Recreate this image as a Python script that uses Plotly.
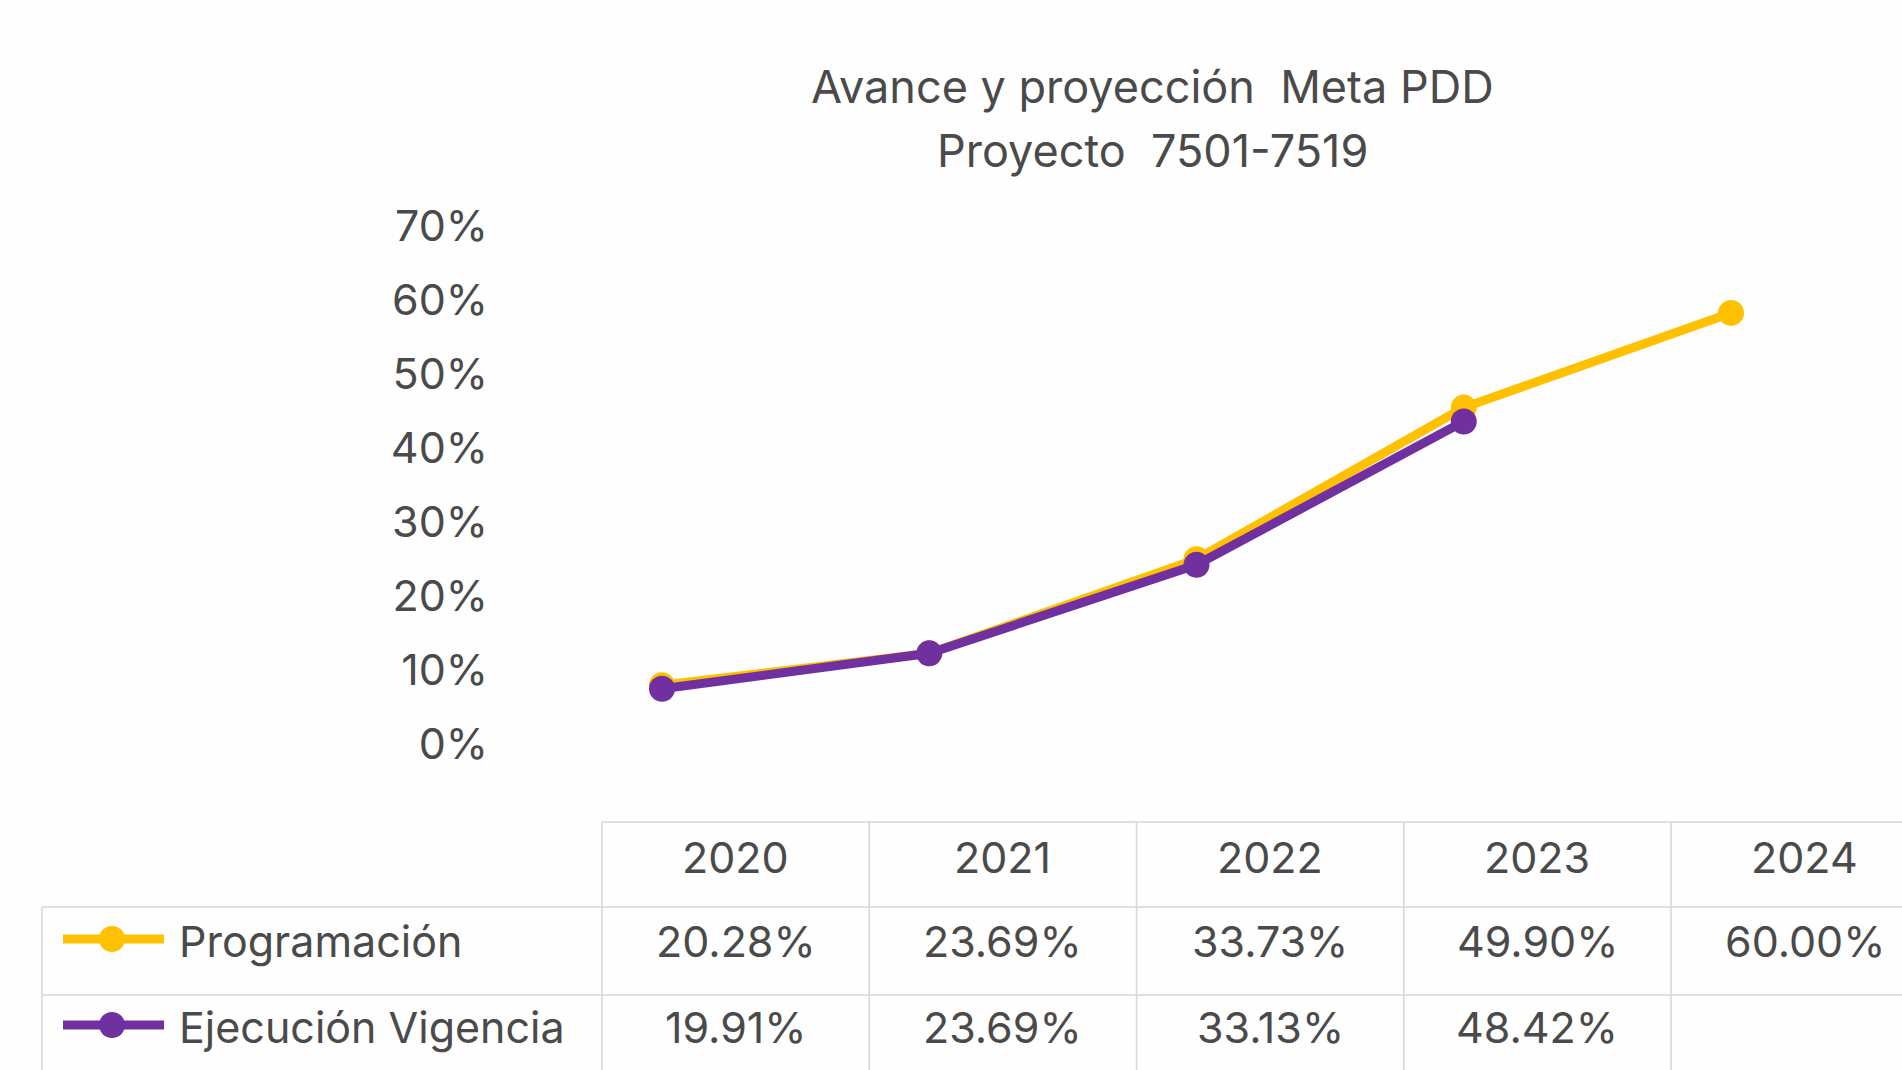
import plotly.graph_objects as go

# ---------------- data ----------------
years = [2020, 2021, 2022, 2023, 2024]
programacion = [20.28, 23.69, 33.73, 49.90, 60.00]
ejecucion = [19.91, 23.69, 33.13, 48.42, None]
series_names = ["Programación", "Ejecución Vigencia"]
y_tick_values = [0, 10, 20, 30, 40, 50, 60, 70]
y_tick_labels = ["0%", "10%", "20%", "30%", "40%", "50%", "60%", "70%"]
title_lines = ["Avance y proyección  Meta PDD", "Proyecto  7501-7519"]

# ---------------- style ----------------
W, H = 1902, 1070
YELLOW = "#FFC000"
PURPLE = "#7030A0"
TEXT = "#4a4a4a"
GRID = "#d6d6d6"
FONT = "Inter"
FS = 43
FS_TITLE = 45

# x scale: year -> pixel (plot spans full width)
px_per_year = 267.25
x0 = 2020 - 662 / px_per_year
x1 = x0 + W / px_per_year


def xpx(year):
    return (year - x0) / (x1 - x0) * W


def px(xp):
    return xp / W


def py(yp):
    return 1 - yp / H


plot_top, plot_bot = 170, 790
dom = [py(plot_bot), py(plot_top)]

fig = go.Figure()
fig.add_trace(go.Scatter(
    x=years, y=programacion, name=series_names[0], yaxis="y",
    mode="lines+markers", line=dict(color=YELLOW, width=9),
    marker=dict(color=YELLOW, size=26), showlegend=False, cliponaxis=False))
fig.add_trace(go.Scatter(
    x=years, y=ejecucion, name=series_names[1], yaxis="y",
    mode="lines+markers", line=dict(color=PURPLE, width=9),
    marker=dict(color=PURPLE, size=26), showlegend=False, cliponaxis=False))
# empty trace so the label axis gets drawn
fig.add_trace(go.Scatter(x=[], y=[], yaxis="y2", showlegend=False, hoverinfo="skip"))

shapes = []
annotations = []

# titles
for i, t in enumerate(title_lines):
    annotations.append(dict(x=px(1152), y=py(87 + 63 * i), xref="paper", yref="paper",
                            text=t, showarrow=False, xanchor="center", yanchor="middle",
                            font=dict(family=FONT, size=FS_TITLE, color=TEXT)))

# ---------------- data table ----------------
row_lines = [822, 907, 995]
row_centers = [857, 941, 1027]
col_left = [xpx(y) - 60 for y in years]
col_w = px_per_year
line_style = dict(color=GRID, width=1.5)
# horizontal lines
shapes.append(dict(type="line", xref="paper", yref="paper", x0=px(col_left[0]), x1=1,
                   y0=py(row_lines[0]), y1=py(row_lines[0]), line=line_style))
for r in row_lines[1:]:
    shapes.append(dict(type="line", xref="paper", yref="paper", x0=px(42), x1=1,
                       y0=py(r), y1=py(r), line=line_style))
# vertical lines
shapes.append(dict(type="line", xref="paper", yref="paper", x0=px(42), x1=px(42),
                   y0=py(row_lines[1]), y1=0, line=line_style))
for cl in col_left:
    shapes.append(dict(type="line", xref="paper", yref="paper", x0=px(cl), x1=px(cl),
                       y0=py(row_lines[0]), y1=0, line=line_style))

# header years
for yv, cl in zip(years, col_left):
    annotations.append(dict(x=px(cl + col_w / 2), y=py(row_centers[0]), xref="paper", yref="paper",
                            text=str(yv), showarrow=False, xanchor="center", yanchor="middle",
                            font=dict(family=FONT, size=FS, color=TEXT)))

# rows
for ri, (vals, name, col) in enumerate(zip([programacion, ejecucion], series_names, [YELLOW, PURPLE])):
    yc = row_centers[ri + 1]
    shapes.append(dict(type="line", xref="paper", yref="paper", x0=px(63), x1=px(164),
                       y0=py(yc - 2), y1=py(yc - 2), line=dict(color=col, width=9)))
    shapes.append(dict(type="circle", xref="paper", yref="paper", x0=px(112 - 13), x1=px(112 + 13),
                       y0=py(yc - 2 - 13), y1=py(yc - 2 + 13), fillcolor=col, line=dict(width=0)))
    annotations.append(dict(x=px(177), y=py(yc), xref="paper", yref="paper", text=name,
                            showarrow=False, xanchor="left", yanchor="middle",
                            font=dict(family=FONT, size=FS, color=TEXT)))
    for v, cl in zip(vals, col_left):
        if v is None:
            continue
        annotations.append(dict(x=px(cl + col_w / 2), y=py(yc), xref="paper", yref="paper",
                                text=f"{v:.2f}%", showarrow=False, xanchor="center", yanchor="middle",
                                font=dict(family=FONT, size=FS, color=TEXT)))

# y scales
# data axis: value 20.28 at pixel 685.3, 9.376 px per percentage point
k = 9.376
yd_lo = 20.28 - (plot_bot - 685.3) / k
yd_hi = 20.28 + (685.3 - plot_top) / k
# label axis: 70% at 225.6 px, 10% at 669.6 px
kl = (669.6 - 225.6) / 60
yl_lo = 10 - (plot_bot - 669.6) / kl
yl_hi = 70 + (225.6 - plot_top) / kl

fig.update_layout(
    width=W, height=H,
    margin=dict(l=0, r=0, t=0, b=0),
    paper_bgcolor="#fefefe", plot_bgcolor="rgba(0,0,0,0)",
    xaxis=dict(domain=[0, 1], range=[x0, x1], visible=False),
    yaxis=dict(domain=dom, range=[yd_lo, yd_hi], visible=False),
    yaxis2=dict(domain=dom, range=[yl_lo, yl_hi], overlaying="y", anchor="free", position=px(488),
                side="left", tickvals=y_tick_values, ticktext=y_tick_labels, showgrid=False,
                zeroline=False, showline=False, ticks="",
                tickfont=dict(family=FONT, size=FS, color=TEXT)),
    shapes=shapes,
    annotations=annotations,
)

fig.write_html("out.html", config={"displayModeBar": False},
               post_script="document.body.style.margin='0';document.body.style.overflow='hidden';")
